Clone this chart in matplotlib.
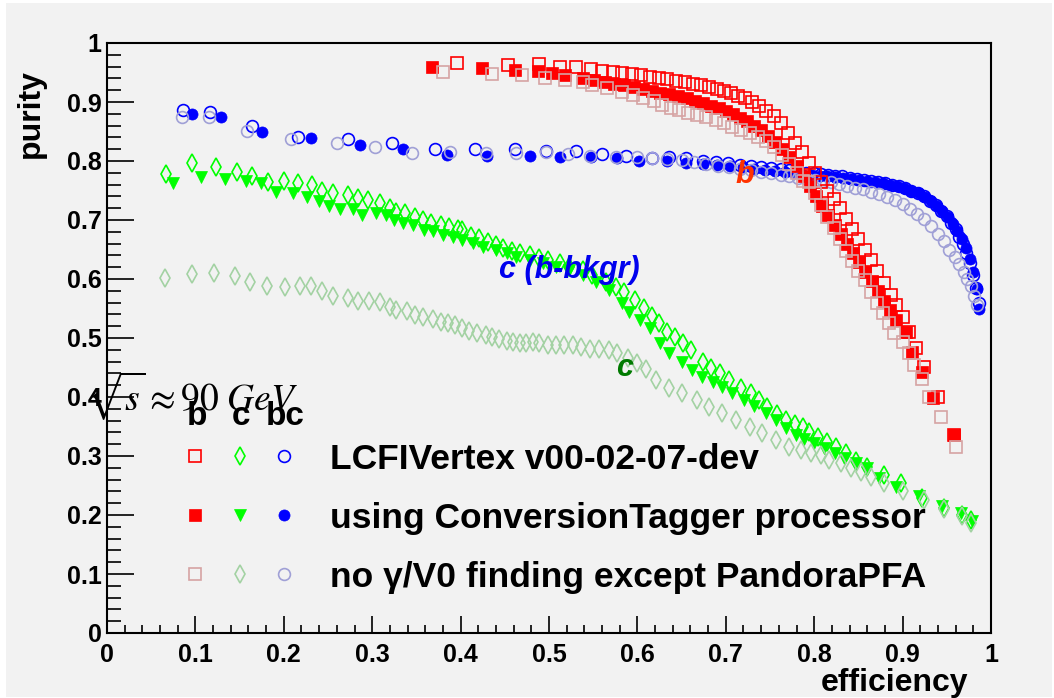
import numpy as np
import matplotlib
matplotlib.use("Agg")
import matplotlib.pyplot as plt
from matplotlib.patches import Rectangle
from matplotlib.ticker import MultipleLocator, FuncFormatter

plt.rcParams['font.family'] = ['Liberation Sans', 'DejaVu Sans']
plt.rcParams['mathtext.fontset'] = 'stix'

# ---- b tagging (squares) ----
b_lcfi_eff = [0.396,0.454,0.489,0.512,0.531,0.548,0.560,0.572,0.583,0.594,0.604,0.614,0.624,0.634,0.644,0.654,0.663,0.672,0.681,0.690,
              0.698,0.706,0.714,0.722,0.730,0.738,0.746,0.754,0.762,0.770,0.778,0.786,0.794,0.801,0.808,0.815,0.822,0.829,0.836,0.843,
              0.850,0.857,0.864,0.871,0.879,0.887,0.893,0.900,0.907,0.915,0.924,0.940,0.958]
b_lcfi_pur = [0.966,0.963,0.964,0.959,0.959,0.956,0.953,0.951,0.949,0.947,0.945,0.943,0.941,0.939,0.936,0.934,0.931,0.928,0.925,0.922,
              0.919,0.915,0.911,0.906,0.900,0.893,0.885,0.876,0.864,0.848,0.830,0.815,0.797,0.780,0.765,0.750,0.735,0.720,0.702,0.684,
              0.668,0.650,0.632,0.614,0.594,0.573,0.556,0.535,0.510,0.483,0.451,0.400,0.336]

b_conv_eff = [0.368,0.424,0.461,0.487,0.503,0.518,0.538,0.551,0.563,0.574,0.585,0.596,0.606,0.616,0.626,0.636,0.646,0.656,0.665,0.674,
              0.683,0.692,0.700,0.708,0.716,0.724,0.732,0.740,0.748,0.756,0.764,0.772,0.780,0.788,0.795,0.802,0.809,0.816,0.823,0.830,
              0.837,0.844,0.851,0.858,0.865,0.872,0.879,0.886,0.893,0.904,0.911,0.922,0.934,0.958]
b_conv_pur = [0.959,0.957,0.954,0.953,0.949,0.946,0.940,0.937,0.934,0.931,0.928,0.925,0.922,0.919,0.916,0.913,0.910,0.906,0.902,0.898,
              0.894,0.889,0.884,0.879,0.873,0.867,0.860,0.852,0.843,0.833,0.821,0.807,0.791,0.774,0.757,0.740,0.724,0.708,0.692,0.676,
              0.660,0.644,0.628,0.612,0.596,0.580,0.563,0.547,0.531,0.510,0.476,0.442,0.398,0.336]

b_nov0_eff = [0.380,0.436,0.470,0.495,0.518,0.538,0.549,0.566,0.583,0.595,0.606,0.619,0.628,0.638,0.647,0.657,0.667,0.678,0.689,0.698,
              0.707,0.717,0.727,0.736,0.746,0.755,0.764,0.772,0.780,0.787,0.794,0.801,0.808,0.815,0.822,0.829,0.836,0.843,0.850,0.857,
              0.864,0.871,0.878,0.885,0.890,0.900,0.907,0.913,0.922,0.930,0.943,0.960]
b_nov0_pur = [0.951,0.947,0.946,0.941,0.937,0.934,0.929,0.924,0.917,0.912,0.907,0.902,0.895,0.890,0.886,0.882,0.878,0.874,0.869,0.864,
              0.858,0.853,0.847,0.841,0.834,0.824,0.810,0.795,0.780,0.766,0.765,0.745,0.725,0.705,0.686,0.667,0.648,0.630,0.614,0.598,
              0.578,0.560,0.543,0.525,0.508,0.494,0.474,0.454,0.430,0.400,0.366,0.315]

# ---- c tagging (diamonds / triangles) ----
c_lcfi_eff = [0.067,0.096,0.123,0.147,0.164,0.182,0.200,0.216,0.232,0.243,0.256,0.273,0.284,0.295,0.309,0.320,0.327,0.337,0.348,0.358,
              0.367,0.378,0.387,0.397,0.402,0.412,0.421,0.431,0.440,0.448,0.458,0.467,0.478,0.489,0.499,0.512,0.523,0.538,0.549,0.565,
              0.576,0.585,0.597,0.608,0.616,0.624,0.633,0.642,0.652,0.661,0.674,0.683,0.693,0.704,0.717,0.729,0.738,0.747,0.758,0.768,
              0.778,0.787,0.794,0.804,0.815,0.825,0.836,0.847,0.860,0.879,0.898,0.922,0.947,0.967,0.977]
c_lcfi_pur = [0.778,0.796,0.789,0.781,0.775,0.764,0.766,0.762,0.760,0.750,0.746,0.742,0.737,0.734,0.729,0.720,0.714,0.712,0.705,0.700,
              0.695,0.691,0.688,0.685,0.683,0.673,0.669,0.663,0.657,0.652,0.648,0.644,0.641,0.636,0.632,0.627,0.620,0.615,0.607,0.595,
              0.586,0.578,0.564,0.551,0.537,0.525,0.510,0.502,0.491,0.480,0.460,0.449,0.441,0.429,0.415,0.407,0.395,0.383,0.372,0.361,
              0.354,0.349,0.341,0.332,0.324,0.315,0.305,0.292,0.282,0.268,0.254,0.229,0.212,0.200,0.192]

c_conv_eff = [0.075,0.106,0.133,0.157,0.174,0.191,0.210,0.226,0.240,0.251,0.264,0.278,0.289,0.304,0.316,0.325,0.335,0.346,0.359,0.369,
              0.380,0.391,0.402,0.414,0.425,0.440,0.452,0.463,0.478,0.493,0.508,0.523,0.538,0.553,0.568,0.583,0.591,0.603,0.614,0.625,
              0.636,0.651,0.662,0.673,0.685,0.696,0.707,0.721,0.732,0.745,0.757,0.768,0.779,0.789,0.800,0.811,0.823,0.834,0.847,0.860,
              0.873,0.892,0.919,0.945,0.966,0.978]
c_conv_pur = [0.762,0.773,0.769,0.766,0.763,0.748,0.745,0.739,0.733,0.724,0.719,0.719,0.708,0.712,0.708,0.700,0.695,0.691,0.683,0.681,
              0.675,0.671,0.666,0.661,0.654,0.649,0.644,0.638,0.632,0.627,0.620,0.615,0.607,0.595,0.581,0.559,0.544,0.530,0.517,0.491,
              0.474,0.459,0.446,0.434,0.425,0.417,0.407,0.395,0.385,0.373,0.361,0.348,0.336,0.329,0.322,0.313,0.305,0.296,0.288,0.279,
              0.262,0.248,0.232,0.215,0.203,0.190]

c_nov0_eff = [0.066,0.096,0.121,0.145,0.162,0.181,0.201,0.218,0.231,0.243,0.256,0.273,0.284,0.296,0.309,0.320,0.327,0.339,0.348,0.358,
              0.369,0.378,0.386,0.394,0.402,0.410,0.419,0.429,0.436,0.444,0.452,0.459,0.467,0.474,0.482,0.489,0.499,0.508,0.517,0.527,
              0.536,0.546,0.557,0.568,0.577,0.589,0.599,0.610,0.621,0.636,0.651,0.667,0.681,0.696,0.712,0.727,0.741,0.757,0.772,0.785,
              0.796,0.808,0.817,0.830,0.842,0.853,0.864,0.879,0.900,0.924,0.947,0.967,0.977]
c_nov0_pur = [0.602,0.608,0.610,0.605,0.595,0.588,0.586,0.588,0.588,0.580,0.571,0.567,0.563,0.563,0.561,0.553,0.547,0.545,0.539,0.536,
              0.532,0.527,0.525,0.522,0.517,0.512,0.508,0.505,0.502,0.498,0.495,0.494,0.491,0.491,0.494,0.491,0.488,0.488,0.488,0.488,
              0.485,0.481,0.481,0.480,0.474,0.466,0.458,0.447,0.429,0.416,0.407,0.395,0.383,0.373,0.361,0.349,0.339,0.327,0.316,0.310,
              0.305,0.302,0.293,0.288,0.279,0.273,0.265,0.254,0.241,0.225,0.210,0.198,0.187]

# ---- c with b background (circles) ----
bc_lcfi_eff = [0.086,0.116,0.164,0.216,0.273,0.322,0.371,0.416,0.462,0.497,0.530,0.560,0.587,0.616,0.636,0.655,0.674,0.689,0.703,0.716,
               0.728,0.740,0.751,0.762,0.772,0.782,0.791,0.800,0.808,0.816,0.824,0.832,0.840,0.848,0.856,0.864,0.872,0.880,0.888,0.896,
               0.903,0.910,0.917,0.924,0.931,0.938,0.944,0.950,0.955,0.960,0.964,0.968,0.972,0.976,0.980,0.983,0.986]
bc_lcfi_pur = [0.886,0.883,0.859,0.841,0.838,0.830,0.821,0.820,0.820,0.817,0.817,0.812,0.808,0.805,0.807,0.805,0.800,0.798,0.796,0.794,
               0.792,0.790,0.788,0.786,0.784,0.782,0.780,0.779,0.778,0.777,0.775,0.774,0.772,0.770,0.768,0.766,0.764,0.762,0.760,0.757,
               0.754,0.750,0.746,0.740,0.733,0.725,0.716,0.706,0.695,0.684,0.672,0.659,0.644,0.627,0.607,0.585,0.560]

bc_conv_eff = [0.096,0.129,0.175,0.231,0.286,0.335,0.385,0.430,0.478,0.513,0.548,0.577,0.602,0.633,0.655,0.674,0.690,0.705,0.719,0.732,
               0.744,0.756,0.767,0.777,0.787,0.797,0.806,0.815,0.824,0.833,0.842,0.851,0.860,0.869,0.878,0.886,0.894,0.902,0.910,0.918,
               0.925,0.932,0.939,0.945,0.951,0.957,0.962,0.967,0.972,0.976,0.980,0.984,0.986]
bc_conv_pur = [0.880,0.874,0.849,0.839,0.827,0.821,0.810,0.808,0.808,0.807,0.807,0.805,0.800,0.800,0.797,0.795,0.793,0.791,0.789,0.787,
               0.785,0.783,0.781,0.779,0.777,0.776,0.775,0.774,0.773,0.772,0.770,0.768,0.766,0.764,0.762,0.760,0.757,0.754,0.750,0.745,
               0.739,0.732,0.724,0.715,0.705,0.694,0.682,0.668,0.652,0.634,0.612,0.583,0.550]

bc_nov0_eff = [0.085,0.115,0.158,0.208,0.260,0.303,0.345,0.388,0.429,0.463,0.497,0.521,0.546,0.576,0.599,0.616,0.633,0.650,0.664,0.678,
               0.691,0.704,0.716,0.728,0.740,0.751,0.762,0.772,0.782,0.792,0.801,0.810,0.819,0.828,0.837,0.846,0.855,0.864,0.873,0.882,
               0.891,0.900,0.908,0.916,0.924,0.932,0.940,0.947,0.953,0.959,0.964,0.969,0.973,0.977,0.981,0.984]
bc_nov0_pur = [0.874,0.874,0.851,0.837,0.830,0.824,0.813,0.815,0.813,0.813,0.815,0.812,0.808,0.807,0.807,0.805,0.803,0.802,0.798,0.795,
               0.792,0.790,0.787,0.785,0.782,0.780,0.777,0.775,0.772,0.770,0.768,0.766,0.764,0.761,0.758,0.755,0.752,0.748,0.744,0.739,
               0.734,0.727,0.719,0.711,0.701,0.690,0.677,0.664,0.650,0.637,0.625,0.612,0.600,0.588,0.572,0.556]

# legend marker grid (drawn inside the frame, ROOT style)
leg_x = [0.1, 0.15, 0.2]
leg_y = [0.3, 0.2, 0.1]
leg_labels = ['LCFIVertex v00-02-07-dev', 'using ConversionTagger processor', 'no γ/V0 finding except PandoraPFA']
col_labels = ['b', 'c', 'bc']

red = '#ff0000'
pred = '#d6a3a3'
blue = '#0000ff'
pblue = '#a0a0d6'
green = '#00ff00'
pgreen = '#a3d2a3'

fig = plt.figure(figsize=(10.54, 6.98), dpi=100)
fig.patch.set_facecolor('white')
fig.patches.append(Rectangle((6/1054, 1/698), 1046/1054, 694/698, transform=fig.transFigure,
                             facecolor='#f2f2f2', edgecolor='none', zorder=-10))
ax = fig.add_axes([107/1054, 1-633/698, (991-107)/1054, (633-43)/698])
ax.set_facecolor('#f2f2f2')
ax.set_xlim(0, 1)
ax.set_ylim(0, 1)

ms = 8.5
mw = 1.2
# styles: (marker, filled?, colour, size) per series
sty = {
    'bc_lcfi': ('o', False, blue, ms), 'bc_conv': ('o', True, blue, 8), 'bc_nov0': ('o', False, pblue, ms),
    'c_lcfi': ('d', False, green, 9), 'c_conv': ('v', True, green, 9), 'c_nov0': ('d', False, pgreen, 9),
    'b_lcfi': ('s', False, red, ms), 'b_conv': ('s', True, red, ms), 'b_nov0': ('s', False, pred, ms),
}
series = [
    ('bc_lcfi', bc_lcfi_eff, bc_lcfi_pur), ('bc_conv', bc_conv_eff, bc_conv_pur), ('bc_nov0', bc_nov0_eff, bc_nov0_pur),
    ('c_lcfi', c_lcfi_eff, c_lcfi_pur), ('c_conv', c_conv_eff, c_conv_pur), ('c_nov0', c_nov0_eff, c_nov0_pur),
    ('b_lcfi', b_lcfi_eff, b_lcfi_pur), ('b_conv', b_conv_eff, b_conv_pur), ('b_nov0', b_nov0_eff, b_nov0_pur),
]

def draw(ax, key, x, y):
    m, filled, c, s = sty[key]
    if filled:
        ax.plot(x, y, linestyle='none', marker=m, ms=s, mfc=c, mec=c, mew=0.5, clip_on=False)
    else:
        ax.plot(x, y, linestyle='none', marker=m, ms=s, mfc='none', mec=c, mew=mw, clip_on=False)

for key, x, y in series:
    draw(ax, key, x, y)

# legend markers: rows = samples, columns = b, c, bc
leg_keys = [['b_lcfi', 'c_lcfi', 'bc_lcfi'], ['b_conv', 'c_conv', 'bc_conv'], ['b_nov0', 'c_nov0', 'bc_nov0']]
for i, row in enumerate(leg_keys):
    for j, key in enumerate(row):
        draw(ax, key, [leg_x[j]], [leg_y[i]])
    ax.text(0.252, leg_y[i] - 0.022, leg_labels[i], fontsize=25.5, fontweight='bold', va='baseline', ha='left')
for j, lab in enumerate(col_labels):
    ax.text(leg_x[j] + 0.002, 0.353, lab, fontsize=24, fontweight='bold', va='baseline', ha='center')

ax.text(-0.025, 0.378, r'$\sqrt{s}\approx 90\ GeV$', fontsize=27, va='baseline', ha='left', clip_on=False)

ax.text(0.721, 0.776, 'b', color='#ff3300', fontsize=22, fontweight='bold', style='italic', ha='center', va='center')
ax.text(0.523, 0.615, 'c (b-bkgr)', color='#0000ee', fontsize=22, fontweight='bold', style='italic', ha='center', va='center')
ax.text(0.585, 0.449, 'c', color='#007a00', fontsize=22, fontweight='bold', style='italic', ha='center', va='center')

# axes, ROOT look
for sp in ax.spines.values():
    sp.set_linewidth(1.5)
ax.xaxis.set_major_locator(MultipleLocator(0.1))
ax.xaxis.set_minor_locator(MultipleLocator(0.02))
ax.yaxis.set_major_locator(MultipleLocator(0.1))
ax.yaxis.set_minor_locator(MultipleLocator(0.02))
fmt = FuncFormatter(lambda v, p: '%g' % round(v, 2))
ax.xaxis.set_major_formatter(fmt)
ax.yaxis.set_major_formatter(fmt)
ax.tick_params(axis='x', which='major', direction='in', length=12.5, width=1.2, pad=7, labelsize=18)
ax.tick_params(axis='x', which='minor', direction='in', length=6, width=1.2)
ax.tick_params(axis='y', which='major', direction='in', length=19.5, width=1.2, pad=4, labelsize=18)
ax.tick_params(axis='y', which='minor', direction='in', length=10, width=1.2)
for lab in ax.get_xticklabels() + ax.get_yticklabels():
    lab.set_fontweight('bold')

fig.text(31/1054, 1-114/698, 'purity', rotation=90, fontsize=23, fontweight='bold', ha='center', va='center')
fig.text(894/1054, 1-683/698, 'efficiency', fontsize=23, fontweight='bold', ha='center', va='center')

fig.savefig('out.png', dpi=100, facecolor=fig.get_facecolor())
